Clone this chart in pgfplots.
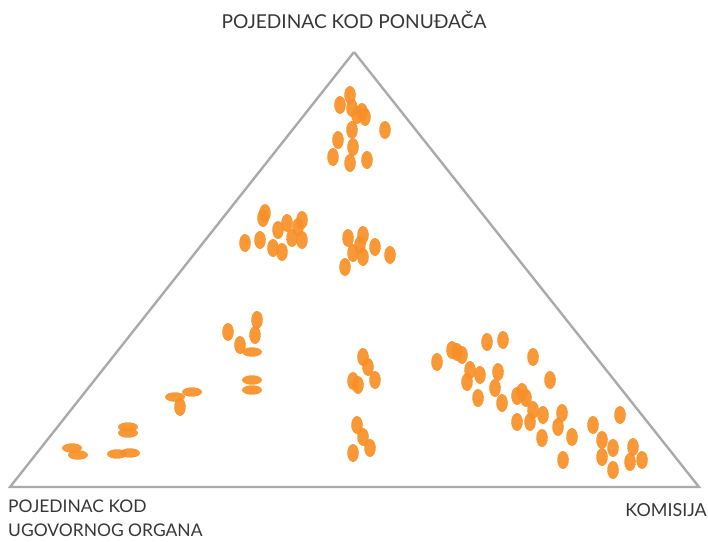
\documentclass[border=0pt]{standalone}
\usepackage{fontspec}
\setmainfont{Lato}
\usepackage{pgfplots}
\pgfplotsset{compat=1.18}
\definecolor{tri}{RGB}{170,170,170}
\definecolor{org}{RGB}{247,143,38}
\definecolor{txt}{RGB}{55,55,55}
\begin{document}
\begin{tikzpicture}
\begin{axis}[
  width=708bp, height=542bp, scale only axis,
  xmin=0, xmax=708, ymin=0, ymax=542, y dir=reverse,
  axis lines=none, clip=false,
]
\path (axis cs:0,0) rectangle (axis cs:708,542);
\addplot[tri, line width=2.4pt, line join=miter] coordinates {(354,52) (10,487) (699,487) (354,52)};
% portrait blobs
\addplot[only marks, mark=*, mark size=9pt, mark options={org, fill=org, xscale=0.65, rotate=-15, opacity=0.92, draw opacity=0}] table {
x y
350 95
340 105
357 115
362 112
352 108
365 117
352 130
385 130
338 140
353 147
333 157
350 163
367 160
265 213
263 218
245 243
260 240
278 230
287 223
302 220
298 227
292 238
273 248
282 252
302 240
348 238
363 235
360 245
353 253
363 257
375 247
390 255
345 267
257 320
228 332
255 335
240 345
180 407
363 357
368 367
375 380
358 385
353 381
357 425
363 437
370 448
353 453
437 362
457 352
452 350
462 355
487 342
503 340
533 357
470 370
480 375
467 382
498 372
495 388
550 380
478 398
522 392
517 396
526 398
502 403
533 410
543 415
562 413
517 422
530 422
558 427
572 437
542 438
593 425
620 415
602 440
613 448
633 447
563 460
602 457
613 470
630 462
642 460
};
% landscape blobs
\addplot[only marks, mark=*, mark size=10pt, mark options={org, fill=org, yscale=0.48, rotate=10, opacity=0.92, draw opacity=0}] table {
x y
252 352
252 380
252 390
175 397
192 392
128 427
128 433
72 448
78 455
117 454
130 453
};
\node[txt, font=\fontsize{19.2}{21}\selectfont, anchor=center] at (axis cs:354,20) {POJEDINAC KOD PONUĐAČA};
\node[txt, font=\fontsize{17.5}{24}\selectfont, anchor=north west, align=left, inner sep=0pt] at (axis cs:8,500) {POJEDINAC KOD\\UGOVORNOG ORGANA};
\node[txt, font=\fontsize{18}{20}\selectfont, anchor=east, inner sep=0pt] at (axis cs:707,510) {KOMISIJA};
\end{axis}
\end{tikzpicture}
\end{document}
